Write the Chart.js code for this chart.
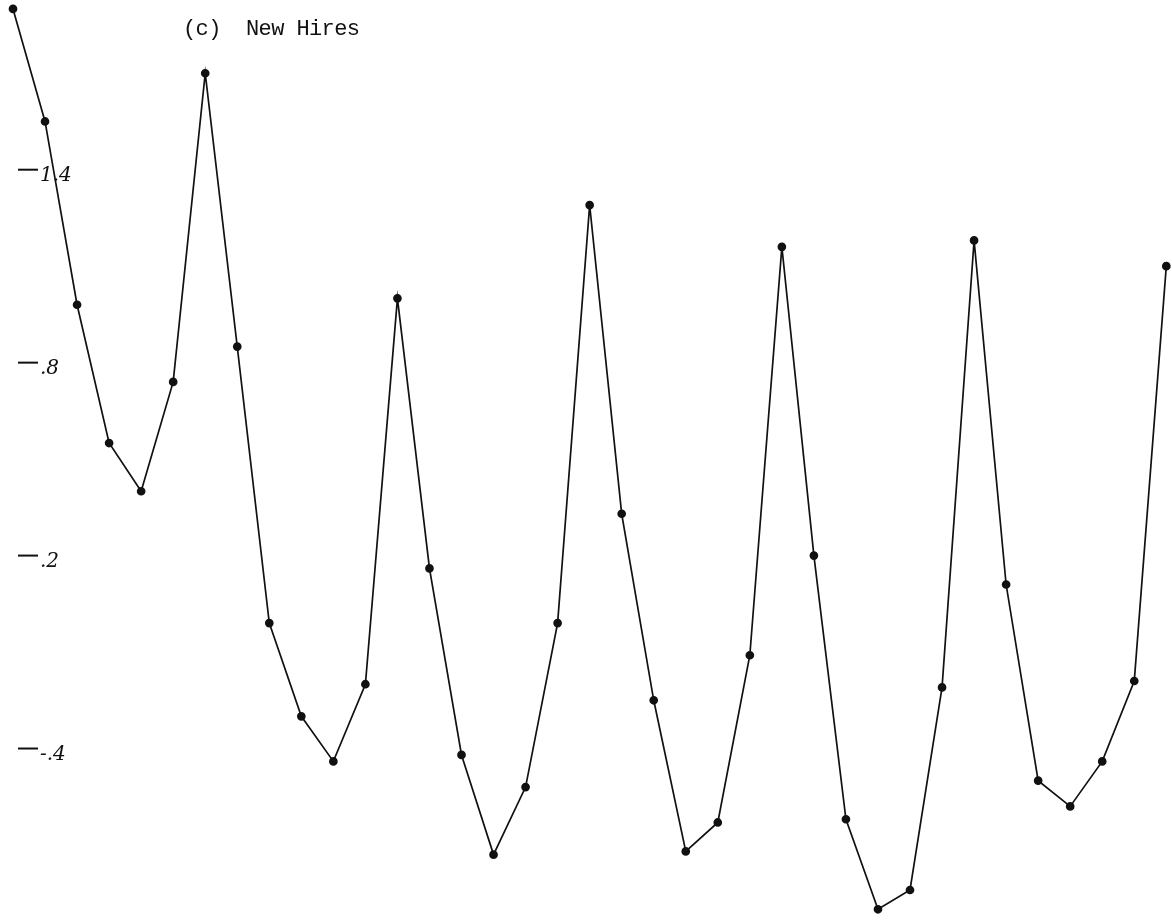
<!DOCTYPE html>
<html>
<head>
<meta charset="utf-8">
<script src="https://cdn.jsdelivr.net/npm/chart.js@4/dist/chart.umd.min.js"></script>
<style>
  body { margin: 0; background: #fff; }
  #wrap { position: relative; width: 1172px; height: 924px; }
  #title {
    position: absolute; left: 183px; top: 17px;
    font-family: "Liberation Mono", "DejaVu Sans Mono", monospace;
    font-size: 22px; letter-spacing: -0.6px; color: #111; white-space: pre;
  }
</style>
</head>
<body>
<div id="wrap">
  <canvas id="mychart" width="1172" height="924"></canvas>
  <div id="title">(c)  New Hires</div>
</div>
<script>
// periods (one point each)
const periodos = Array.from({length: 37}, (_, i) => String(i + 1));

// new hires series
const nuevos = [
   1.90,  1.55,  0.98,  0.55,  0.40,  0.74,  1.70,
   0.85, -0.01, -0.30, -0.44, -0.20,  1.00,
   0.16, -0.42, -0.73, -0.52, -0.01,  1.29,
   0.33, -0.25, -0.72, -0.63, -0.11,  1.16,
   0.20, -0.62, -0.90, -0.84, -0.21,  1.18,
   0.11, -0.50, -0.58, -0.44, -0.19,  1.10
];

// y tick values and their labels
const yTicks = [1.4, 0.8, 0.2, -0.4];
const yLabels = ['1.4', '.8', '.2', '-.4'];

const marcas = {
    id: 'marcas',
    afterDraw(chart) {
        const ctx = chart.ctx;
        const y = chart.scales.y;
        ctx.save();
        ctx.strokeStyle = '#111';
        ctx.lineWidth = 2;
        ctx.fillStyle = '#111';
        ctx.font = 'italic 20px "DejaVu Serif"';
        ctx.textBaseline = 'middle';
        yTicks.forEach((v, i) => {
            const py = y.getPixelForValue(v);
            ctx.beginPath();
            ctx.moveTo(18, py);
            ctx.lineTo(38, py);
            ctx.stroke();
            ctx.fillText(yLabels[i], 40, py + 6);
        });
        ctx.restore();
    }
};

const canvas = document.getElementById('mychart');
const grafico1 = new Chart(canvas, {
    type: 'line',
    data: {
        labels: periodos,
        datasets: [{
            label: 'New Hires',
            data: nuevos,
            borderColor: '#111',
            borderWidth: 1.7,
            pointRadius: 3.5,
            pointBackgroundColor: '#111',
            pointBorderColor: '#111',
            tension: 0,
            clip: false
        }]
    },
    options: {
        responsive: false,
        animation: false,
        layout: { padding: { left: 13, right: 2, top: 0, bottom: 0 } },
        plugins: {
            legend: { display: false },
            tooltip: { enabled: false }
        },
        scales: {
            x: { display: false, offset: false },
            y: { display: false, min: -0.928, max: 1.91 }
        }
    },
    plugins: [marcas]
});
</script>
</body>
</html>
